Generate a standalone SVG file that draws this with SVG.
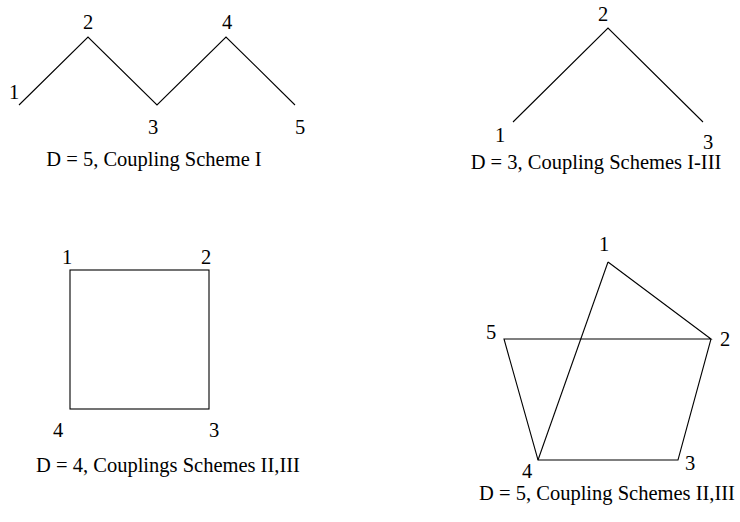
<svg xmlns="http://www.w3.org/2000/svg" width="740" height="522" viewBox="0 0 740 522">
<style>
text{font-family:"Liberation Serif","Times New Roman",serif;font-size:20.5px;fill:#000}
.c{text-anchor:middle}
.e{stroke:#000;stroke-width:1.1;fill:none}
</style>
<rect width="740" height="522" fill="#fff"/>
<g id="connectors">
<polyline class="e" points="19,105 88,37 157,105 226,37 295,105"/>
<polyline class="e" points="513,122 608,28 703,122"/>
<rect class="e" x="70" y="270" width="139" height="139"/>
<polygon class="e" points="608,262 711,339 678,460 538,460 504,339 711,339"/>
<line class="e" x1="538" y1="460" x2="608" y2="262"/>
</g>
<g id="graph1">
<text class="c" x="14" y="99">1</text>
<text class="c" x="88" y="29">2</text>
<text class="c" x="153" y="134">3</text>
<text class="c" x="227" y="29">4</text>
<text class="c" x="300" y="134">5</text>
<text class="c" x="154" y="166">D = 5, Coupling Scheme I</text>
</g>
<g id="graph2">
<text class="c" x="500" y="142">1</text>
<text class="c" x="603" y="21">2</text>
<text class="c" x="708" y="149">3</text>
<text class="c" x="596" y="169">D = 3, Coupling Schemes I-III</text>
</g>
<g id="graph3">
<text class="c" x="67" y="264">1</text>
<text class="c" x="206" y="264">2</text>
<text class="c" x="58" y="437">4</text>
<text class="c" x="214" y="437">3</text>
<text class="c" x="168" y="472">D = 4, Couplings Schemes II,III</text>
</g>
<g id="graph4">
<text class="c" x="604" y="251">1</text>
<text class="c" x="725" y="346">2</text>
<text class="c" x="690" y="470">3</text>
<text class="c" x="527" y="478">4</text>
<text class="c" x="491" y="339">5</text>
<text class="c" x="607" y="500">D = 5, Coupling Schemes II,III</text>
</g>
</svg>
